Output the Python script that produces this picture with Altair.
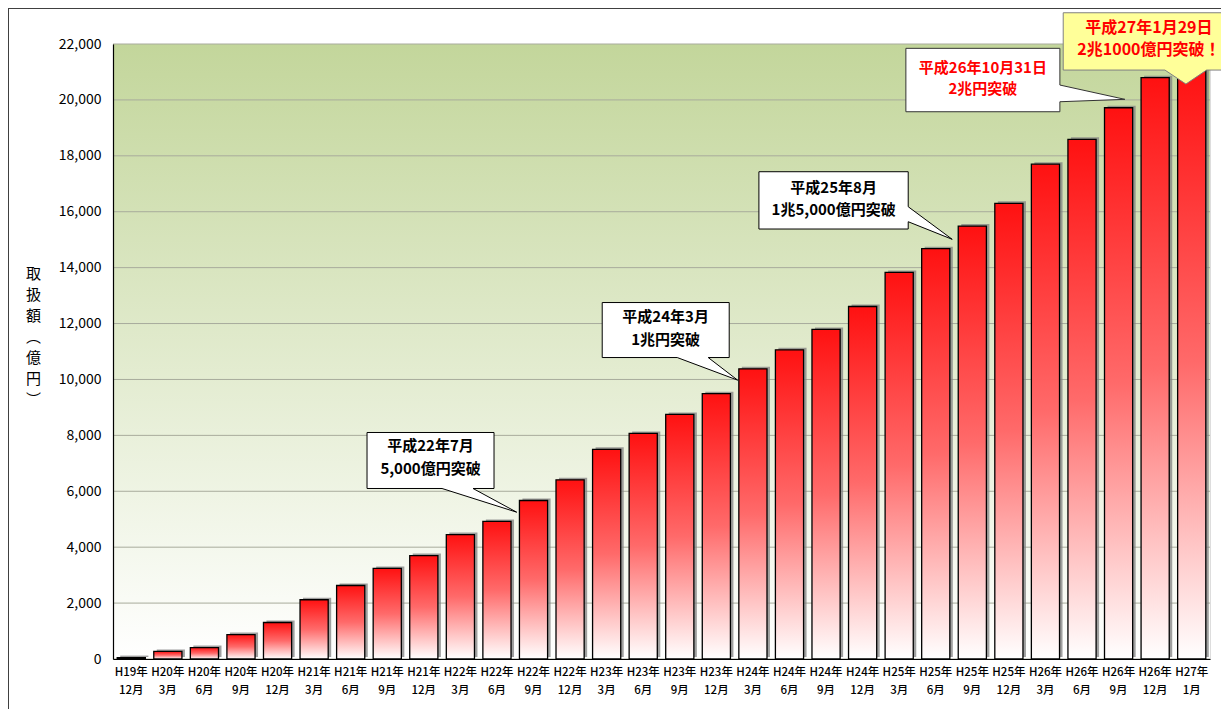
import altair as alt
import pandas as pd

# ---- data ----
years = ["H19年", "H20年", "H20年", "H20年", "H20年", "H21年", "H21年", "H21年", "H21年",
         "H22年", "H22年", "H22年", "H22年", "H23年", "H23年", "H23年", "H23年",
         "H24年", "H24年", "H24年", "H24年", "H25年", "H25年", "H25年", "H25年",
         "H26年", "H26年", "H26年", "H26年", "H27年"]
months = ["12月", "3月", "6月", "9月", "12月", "3月", "6月", "9月", "12月",
          "3月", "6月", "9月", "12月", "3月", "6月", "9月", "12月",
          "3月", "6月", "9月", "12月", "3月", "6月", "9月", "12月",
          "3月", "6月", "9月", "12月", "1月"]
amounts = [50, 270, 410, 875, 1305, 2120, 2630, 3240, 3700,
           4450, 4920, 5670, 6410, 7500, 8070, 8750, 9490,
           10380, 11060, 11790, 12610, 13830, 14680, 15485, 16300,
           17700, 18590, 19720, 20795, 21100]
y_ticks = [0, 2000, 4000, 6000, 8000, 10000, 12000, 14000, 16000, 18000, 20000, 22000]
y_title = ["取", "扱", "額", "︵", "億", "円", "︶"]

callout_texts = [
    (11, ["平成22年7月", "5,000億円突破"]),
    (17, ["平成24年3月", "1兆円突破"]),
    (23, ["平成25年8月", "1兆5,000億円突破"]),
    (27, ["平成26年10月31日", "2兆円突破"]),
    (29, ["平成27年1月29日", "2兆1000億円突破！"]),
]

# ---- styling of the callouts (shape paths in pixels relative to the anchored bar top) ----
callout_styles = [
    dict(path="M-166.5,-68L-39.5,-68L-39.5,-12L-60.5,-12L-16.8,11.7L-91.5,-12L-166.5,-12Z",
         fill="#ffffff", stroke="#000000", tcolor="#000000", dx=-103, dy=-54, lh=23, fs=15),
    dict(path="M-150.7,-66.3L-23.7,-66.3L-23.7,-11.3L-44.7,-11.3L-15.3,11.3L-75.7,-11.3L-150.7,-11.3Z",
         fill="#ffffff", stroke="#000000", tcolor="#000000", dx=-87.3, dy=-51.5, lh=22.7, fs=15),
    dict(path="M-213.4,-54.4L-64.1,-54.4L-64.1,-19.4L-20.1,13.2L-64.1,-4.4L-64.1,2.9L-213.4,2.9Z",
         fill="#ffffff", stroke="#000000", tcolor="#000000", dx=-138.7, dy=-37.8, lh=21.7, fs=15),
    dict(path="M-212.7,-59.4L-58.7,-59.4L-58.7,-22.7L6.3,-8.4L-58.7,-6L-58.7,4L-212.7,4Z",
         fill="#ffffff", stroke="#333333", tcolor="#ff0000", dx=-135.7, dy=-39.4, lh=21, fs=15),
    dict(path="M-128.5,-56.4L45,-56.4L45,0.9L14.9,0.9L-5.8,14.9L-26.8,0.9L-128.5,0.9Z",
         fill="#ffff99", stroke="#808080", tcolor="#ff0000", dx=-42.8, dy=-40.8, lh=21.7, fs=16),
]

cats = [f"{y}|{m}" for y, m in zip(years, months)]
df = pd.DataFrame({"cat": cats, "amount": amounts})

W, H = 1097, 615
FONT = "Noto Sans CJK JP"

xscale = alt.Scale(domain=cats, paddingInner=0.23, paddingOuter=0.115)
yscale = alt.Scale(domain=[0, 22000], nice=False)

xaxis = alt.Axis(labelExpr="split(datum.label, '|')", labelAngle=0, ticks=False,
                 domainColor="#000000", domainWidth=1.2, labelFontSize=11.5, labelColor="#000000",
                 labelPadding=7, labelLineHeight=18, title=None, zindex=1, labelOverlap=False,
                 labelFontWeight=500)
yaxis = alt.Axis(values=y_ticks, format=",.0f", grid=False, ticks=False, domainColor="#000000",
                 domainWidth=1.2, labelFontSize=14, labelColor="#000000", labelPadding=12,
                 title=y_title, titleAngle=0, titleX=-80, titleY=222, titleAlign="center",
                 titleBaseline="top", titleFontSize=15, titleFontWeight="normal",
                 titleLineHeight=21, titleColor="#000000", zindex=1)


def X(field="cat"):
    return alt.X(f"{field}:N", scale=xscale, axis=xaxis)


def Y(field="amount"):
    return alt.Y(f"{field}:Q", scale=yscale, axis=yaxis)


one = pd.DataFrame({"k": [0]})

bg = alt.Chart(one).mark_rect(
    fill=alt.Gradient(gradient="linear", x1=0, y1=0, x2=0, y2=1,
                      stops=[alt.GradientStop(color="#c3d69b", offset=0),
                             alt.GradientStop(color="#ffffff", offset=1)])
).encode(x=alt.value(0), x2=alt.value("width"), y=alt.value(0), y2=alt.value("height"))

grid = alt.Chart(pd.DataFrame({"amount": y_ticks})).mark_rule(color="#a8ab9c", strokeWidth=1).encode(
    y=Y(), x=alt.value(0), x2=alt.value("width"))

shadow = alt.Chart(df).mark_bar(fill="#808080", opacity=0.75, xOffset=3, yOffset=-2).encode(
    x=X(), y=Y())

bars = alt.Chart(df).mark_bar(
    fill=alt.Gradient(gradient="linear", x1=0, y1=0, x2=0, y2=1,
                      stops=[alt.GradientStop(color="#ff1111", offset=0),
                             alt.GradientStop(color="#ff6a6a", offset=0.5),
                             alt.GradientStop(color="#ffffff", offset=1)]),
    stroke="#000000", strokeWidth=1.3
).encode(x=X(), y=Y())

layers = [bg, grid, shadow, bars]
for (idx, lines), st in zip(callout_texts, callout_styles):
    cdf = pd.DataFrame({"cat": [cats[idx]], "amount": [amounts[idx]]})
    base = alt.Chart(cdf).encode(x=X(), y=Y())
    layers.append(base.mark_point(shape=st["path"], size=4, filled=True, fill=st["fill"],
                                  stroke=st["stroke"], strokeWidth=1, opacity=1, fillOpacity=1))
    layers.append(base.mark_text(text=lines, dx=st["dx"], dy=st["dy"], fontSize=st["fs"],
                                 fontWeight="bold", color=st["tcolor"], lineHeight=st["lh"],
                                 align="center", baseline="middle", font=FONT))

frame_left = alt.Chart(one).mark_rule(color="#404040", strokeWidth=1).encode(
    x=alt.value(-104.5), y=alt.value(-36), y2=alt.value(H + 60))
frame_top = alt.Chart(one).mark_rule(color="#404040", strokeWidth=1).encode(
    y=alt.value(-35.5), x=alt.value(-105), x2=alt.value(W + 20))
layers += [frame_left, frame_top]

chart = alt.layer(*layers).properties(
    width=W, height=H,
    padding={"left": 105, "top": 36, "right": 11, "bottom": 50},
    autosize=alt.AutoSizeParams(type="none"),
).configure_view(stroke=None).configure(font=FONT)

chart.save("out.html", embed_options={"renderer": "svg", "actions": False})
